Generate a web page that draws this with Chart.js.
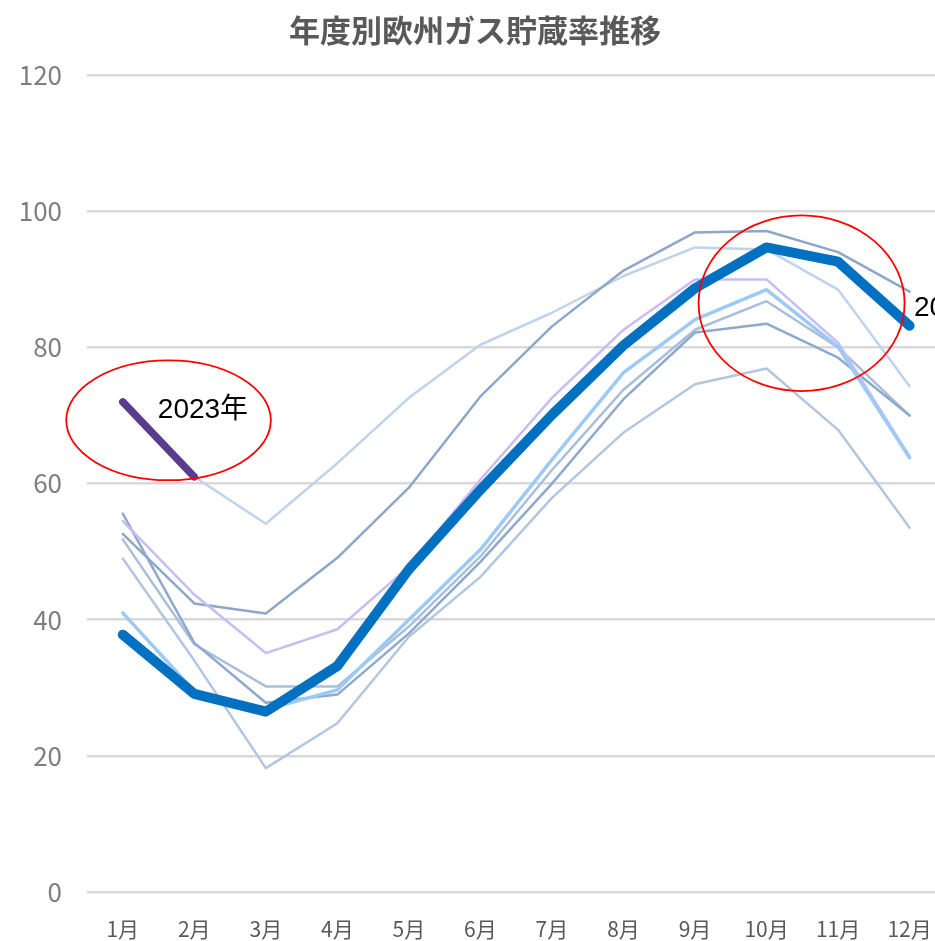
<!DOCTYPE html>
<html lang="ja">
<head>
<meta charset="utf-8">
<title>年度別欧州ガス貯蔵率推移</title>
<script src="https://cdn.jsdelivr.net/npm/chart.js@4.4.1/dist/chart.umd.min.js"></script>
<style>
  html, body { margin: 0; padding: 0; background: #fff; overflow: hidden; }
  .wrap { position: relative; width: 956px; height: 941px; }
</style>
</head>
<body>
<div class="wrap"><canvas id="gasChart"></canvas></div>
<script>
/* ── data (storage %, month end) ── */
const MONTHS  = ['1月','2月','3月','4月','5月','6月','7月','8月','9月','10月','11月','12月'];
const Y_TICKS = [0, 20, 40, 60, 80, 100, 120];

const Y2023 = [72, 61];
const Y2022 = [37.8, 29.1, 26.5, 33.2, 47.4, 59.1, 70.1, 80.3, 88.7, 94.7, 92.6, 83.2];

const PAST_A = [72, 61, 54.1, 63, 72.6, 80.4, 85.1, 90.5, 94.7, 94.4, 88.5, 74.3];
const PAST_B = [52.6, 42.4, 40.9, 49.1, 59.4, 72.8, 83.1, 91.3, 96.9, 97.1, 94, 88.2];
const PAST_C = [54.5, 43.7, 35.1, 38.6, 47.8, 60.6, 72.6, 82.6, 90, 90, 80.7, 64];
const PAST_D = [41, 29.5, 26.8, 29.7, 40, 50.3, 63.5, 76.3, 84.1, 88.5, 80.1, 63.8];
const PAST_E = [55.6, 36.6, 27.8, 29, 38, 48.5, 60, 72.4, 82.2, 83.5, 78.5, 70];
const PAST_F = [51.8, 36.4, 30.2, 30.2, 39, 49.3, 62, 73.8, 82.6, 86.8, 80, 70];
const PAST_G = [49, 34, 18.2, 24.8, 37.5, 46.3, 57.9, 67.5, 74.6, 76.9, 67.9, 53.5];

/* ── annotations (in axis units: month index / %) ── */
const ELLIPSES = [
  { idx: 0.64, val: 69.3, rIdx: 1.43, rVal: 8.8 },
  { idx: 9.49, val: 86.5, rIdx: 1.44, rVal: 12.9 }
];
const NOTES = [
  { text: '2023年', idx: 0.49, val: 70.7 },
  { text: '2022年', idx: 11.06, val: 85.7 }
];

function thin(data, color, width){
  return { data, borderColor: color, borderWidth: width || 2.5, pointRadius: 0, tension: 0,
           borderJoinStyle: 'round', borderCapStyle: 'round' };
}

/* ── ellipses + labels on top of the lines ── */
const notePlugin = {
  id: 'notes',
  afterDatasetsDraw(chart){
    const { ctx, scales: { x, y } } = chart;
    ctx.save();
    ctx.strokeStyle = '#ff0000';
    ctx.lineWidth = 1.8;
    ELLIPSES.forEach(e => {
      const cx = x.getPixelForValue(e.idx), cy = y.getPixelForValue(e.val);
      const rx = Math.abs(x.getPixelForValue(e.idx + e.rIdx) - cx);
      const ry = Math.abs(y.getPixelForValue(e.val + e.rVal) - cy);
      ctx.beginPath();
      ctx.ellipse(cx, cy, rx, ry, 0, 0, Math.PI * 2);
      ctx.stroke();
    });
    ctx.fillStyle = '#000';
    ctx.font = '28px "Liberation Sans", "Noto Sans CJK JP", sans-serif';
    ctx.textAlign = 'left';
    ctx.textBaseline = 'middle';
    NOTES.forEach(n => ctx.fillText(n.text, x.getPixelForValue(n.idx), y.getPixelForValue(n.val)));
    ctx.restore();
  }
};

Chart.defaults.font.family = '"Noto Sans CJK JP", "Noto Sans", sans-serif';

new Chart(document.getElementById('gasChart'), {
  type: 'line',
  data: {
    labels: MONTHS,
    datasets: [
      { label: '2023年', data: Y2023, borderColor: '#5b3b8c', borderWidth: 7.5, pointRadius: 0,
        borderCapStyle: 'round', borderJoinStyle: 'round' },
      { label: '2022年', data: Y2022, borderColor: '#0070c0', borderWidth: 10, pointRadius: 0,
        borderCapStyle: 'round', borderJoinStyle: 'round' },
      thin(PAST_D, '#9ccaf4', 3.5),
      thin(PAST_C, '#c7bdf4'),
      thin(PAST_E, '#8fa9cc'),
      thin(PAST_F, '#a9bedb'),
      thin(PAST_B, '#8ea7c8'),
      thin(PAST_A, '#bfd3ec'),
      thin(PAST_G, '#b3c6df')
    ]
  },
  options: {
    responsive: true,
    maintainAspectRatio: false,
    animation: false,
    devicePixelRatio: 1,
    layout: { padding: { left: 0, right: 6, top: 0, bottom: 0 } },
    plugins: {
      legend: { display: false },
      tooltip: { enabled: false },
      title: {
        display: true,
        text: '年度別欧州ガス貯蔵率推移',
        color: '#595959',
        font: { size: 31, weight: 'bold' },
        padding: { top: 12, bottom: 26 }
      }
    },
    scales: {
      x: {
        offset: true,
        grid: { display: false, drawTicks: false },
        border: { display: false },
        ticks: { color: '#595959', font: { size: 21 }, padding: 24, maxRotation: 0, autoSkip: false },
        afterFit(s){ s.height = 49; }
      },
      y: {
        min: Y_TICKS[0],
        max: Y_TICKS[Y_TICKS.length - 1],
        afterBuildTicks(s){ s.ticks = Y_TICKS.map(v => ({ value: v })); },
        grid: { color: '#d9d9d9', lineWidth: 2.5, drawTicks: false },
        border: { display: false },
        ticks: { color: '#7f7f7f', font: { size: 26 }, padding: 25 },
        afterFit(s){ s.width = 87; }
      }
    }
  },
  plugins: [notePlugin]
});
</script>
</body>
</html>
